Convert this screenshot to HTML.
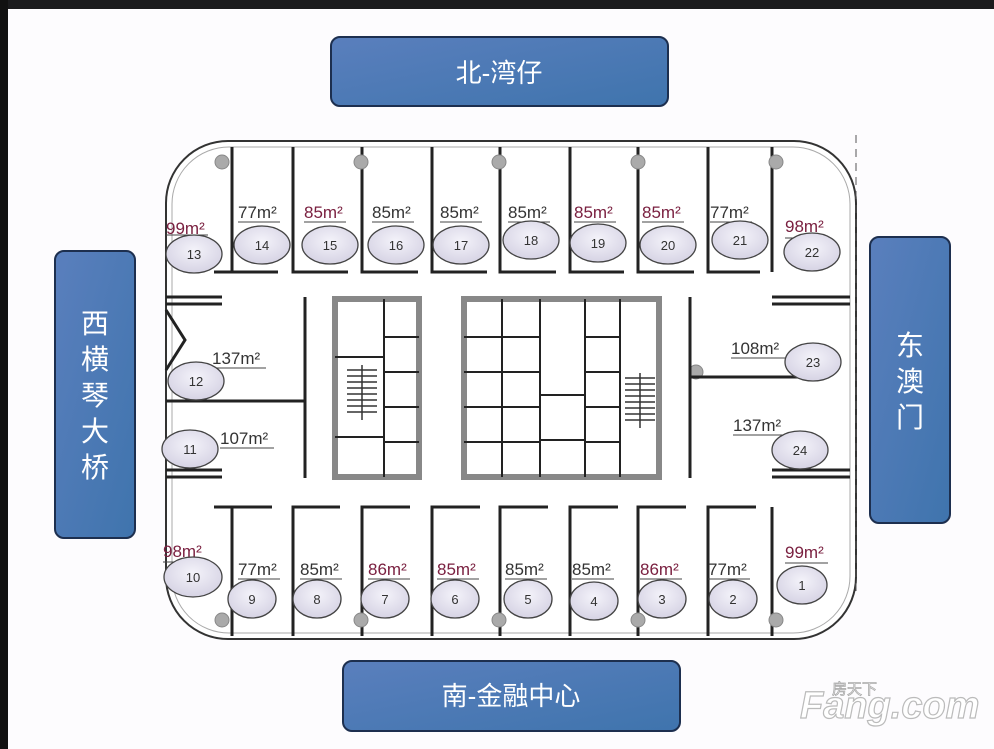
<!DOCTYPE html>
<html><head><meta charset="utf-8"><style>
html,body{margin:0;padding:0;background:#fdfcfe;}
svg{display:block;}
text{font-family:"Liberation Sans","Noto Sans CJK SC",sans-serif;}
.cn{font-family:"Liberation Sans","Noto Sans CJK SC",sans-serif;fill:#fff;}
.lb{font-size:17px;fill:#333;font-family:"Liberation Serif","DejaVu Serif",serif;}
.r{fill:#7a2040;}
.n{font-size:13px;fill:#333;text-anchor:middle;}
.w{stroke:#222;stroke-width:3;fill:none;}
.g{stroke:#777;stroke-width:5;fill:none;}
.e{fill:url(#eg);stroke:#444;stroke-width:1.3;}
.core{fill:#fff;stroke:#888;stroke-width:6;}
.cl{stroke:#222;stroke-width:2;fill:none;}
</style></head><body>
<svg width="994" height="749" viewBox="0 0 994 749" xmlns="http://www.w3.org/2000/svg">
<defs>
<radialGradient id="eg" cx="50%" cy="40%" r="60%"><stop offset="0" stop-color="#f4f3fa"/><stop offset="1" stop-color="#d6d3e4"/></radialGradient>
<linearGradient id="bg" x1="0" y1="0" x2="1" y2="1"><stop offset="0" stop-color="#5a7fbd"/><stop offset="1" stop-color="#3f74ad"/></linearGradient>
</defs>
<rect x="0" y="0" width="994" height="749" fill="#fdfcfe"/>
<rect x="0" y="0" width="994" height="9" fill="#1b1b1d"/>
<rect x="0" y="0" width="8" height="749" fill="#111"/>

<!-- direction boxes -->
<rect x="331" y="37" width="337" height="69" rx="9" fill="url(#bg)" stroke="#1d2f4f" stroke-width="2"/>
<text x="499" y="82" class="cn" font-size="26" text-anchor="middle">北-湾仔</text>
<rect x="55" y="251" width="80" height="287" rx="9" fill="url(#bg)" stroke="#1d2f4f" stroke-width="2"/>
<text class="cn" font-size="28" text-anchor="middle"><tspan x="95" y="333">西</tspan><tspan x="95" y="369">横</tspan><tspan x="95" y="405">琴</tspan><tspan x="95" y="441">大</tspan><tspan x="95" y="477">桥</tspan></text>
<rect x="870" y="237" width="80" height="286" rx="9" fill="url(#bg)" stroke="#1d2f4f" stroke-width="2"/>
<text class="cn" font-size="28" text-anchor="middle"><tspan x="910" y="355">东</tspan><tspan x="910" y="391">澳</tspan><tspan x="910" y="427">门</tspan></text>
<rect x="343" y="661" width="337" height="70" rx="9" fill="url(#bg)" stroke="#1d2f4f" stroke-width="2"/>
<text x="511" y="705" class="cn" font-size="26" text-anchor="middle">南-金融中心</text>

<!-- outline -->
<rect x="166" y="141" width="690" height="498" rx="62" fill="#fff" stroke="#333" stroke-width="2"/>
<rect x="172" y="147" width="678" height="486" rx="57" fill="none" stroke="#aaa" stroke-width="1"/>
<line x1="856" y1="135" x2="856" y2="595" stroke="#555" stroke-dasharray="8 6" stroke-width="1"/>

<!-- top unit walls -->
<g class="w">
<path d="M232 147V272H278M232 272H214"/>
<path d="M293 147V272H348M305 272H293"/>
<path d="M362 147V272H418M374 272H362"/>
<path d="M432 147V272H487M444 272H432"/>
<path d="M500 147V272H556M512 272H500"/>
<path d="M570 147V272H624M582 272H570"/>
<path d="M638 147V272H694M650 272H638"/>
<path d="M708 147V272H760M720 272H708"/>
<path d="M772 147V272"/>
</g>
<!-- bottom unit walls -->
<g class="w">
<path d="M232 636V507H272M232 507H214"/>
<path d="M293 636V507H340M305 507H293"/>
<path d="M362 636V507H410M374 507H362"/>
<path d="M432 636V507H480M444 507H432"/>
<path d="M500 636V507H548M512 507H500"/>
<path d="M570 636V507H618M582 507H570"/>
<path d="M638 636V507H686M650 507H638"/>
<path d="M708 636V507H756M720 507H708"/>
<path d="M772 636V507"/>
</g>
<!-- columns -->
<g fill="#aaa" stroke="#888">
<circle cx="222" cy="162" r="7"/><circle cx="361" cy="162" r="7"/><circle cx="499" cy="162" r="7"/><circle cx="638" cy="162" r="7"/><circle cx="776" cy="162" r="7"/>
<circle cx="222" cy="620" r="7"/><circle cx="361" cy="620" r="7"/><circle cx="499" cy="620" r="7"/><circle cx="638" cy="620" r="7"/><circle cx="776" cy="620" r="7"/>
<circle cx="187" cy="387" r="7"/><circle cx="696" cy="372" r="7"/>
</g>

<!-- side middle walls -->
<g class="w">
<path d="M166 297H222M166 304H222"/>
<path d="M166 477H222M166 470H222"/>
<path d="M305 297V478"/>
<path d="M690 297V478"/>
<path d="M166 401H305"/>
<path d="M690 377H810"/>
<path d="M772 297H850M772 304H850"/>
<path d="M772 470H850M772 477H850"/>
<path d="M166 310L185 340L166 370"/>
</g>

<!-- cores -->
<rect x="335" y="299" width="84" height="178" class="core"/>
<rect x="464" y="299" width="195" height="178" class="core"/>
<g class="cl">
<path d="M384 299V477M384 337H419M384 372H419M384 407H419M384 442H419"/>
<path d="M335 357H384M335 437H384"/>
<path d="M502 299V477M464 337H540M464 372H540M464 407H540M464 442H540M540 299V477"/>
<path d="M585 299V477M585 337H620M585 372H620M585 407H620M585 442H620M620 299V477"/>
<path d="M540 395H585M540 440H585"/>
</g>
<g stroke="#333" stroke-width="1.5">
<path d="M347 370H377M347 376H377M347 382H377M347 388H377M347 394H377M347 400H377M347 406H377M347 412H377"/>
<path d="M625 378H655M625 384H655M625 390H655M625 396H655M625 402H655M625 408H655M625 414H655M625 420H655"/>
<path d="M362 365V420M640 373V428"/>
</g>

<!-- area labels -->
<g class="lb">
<text x="166" y="234" class="r">99m²</text>
<text x="238" y="218">77m²</text>
<text x="304" y="218" class="r">85m²</text>
<text x="372" y="218">85m²</text>
<text x="440" y="218">85m²</text>
<text x="508" y="218">85m²</text>
<text x="574" y="218" class="r">85m²</text>
<text x="642" y="218" class="r">85m²</text>
<text x="710" y="218">77m²</text>
<text x="785" y="232" class="r">98m²</text>
<text x="212" y="364">137m²</text>
<text x="220" y="444">107m²</text>
<text x="731" y="354">108m²</text>
<text x="733" y="431">137m²</text>
<text x="163" y="557" class="r">98m²</text>
<text x="238" y="575">77m²</text>
<text x="300" y="575">85m²</text>
<text x="368" y="575" class="r">86m²</text>
<text x="437" y="575" class="r">85m²</text>
<text x="505" y="575">85m²</text>
<text x="572" y="575">85m²</text>
<text x="640" y="575" class="r">86m²</text>
<text x="708" y="575">77m²</text>
<text x="785" y="558" class="r">99m²</text>
</g>
<g stroke="#444" stroke-width="1">
<path d="M166 235H208M238 222H280M304 222H346M372 222H414M440 222H482M508 222H550M574 222H616M642 222H684M710 222H752M785 238H828"/>
<path d="M212 368H266M220 448H274M731 358H786M733 435H788"/>
<path d="M163 562H206M238 579H280M300 579H342M368 579H410M437 579H479M505 579H547M572 579H614M640 579H682M708 579H750M785 563H828"/>
</g>

<!-- ellipses -->
<g class="e">
<ellipse cx="194" cy="254" rx="28" ry="19"/>
<ellipse cx="262" cy="245" rx="28" ry="19"/>
<ellipse cx="330" cy="245" rx="28" ry="19"/>
<ellipse cx="396" cy="245" rx="28" ry="19"/>
<ellipse cx="461" cy="245" rx="28" ry="19"/>
<ellipse cx="531" cy="240" rx="28" ry="19"/>
<ellipse cx="598" cy="243" rx="28" ry="19"/>
<ellipse cx="668" cy="245" rx="28" ry="19"/>
<ellipse cx="740" cy="240" rx="28" ry="19"/>
<ellipse cx="812" cy="252" rx="28" ry="19"/>
<ellipse cx="196" cy="381" rx="28" ry="19"/>
<ellipse cx="190" cy="449" rx="28" ry="19"/>
<ellipse cx="813" cy="362" rx="28" ry="19"/>
<ellipse cx="800" cy="450" rx="28" ry="19"/>
<ellipse cx="193" cy="577" rx="29" ry="20"/>
<ellipse cx="252" cy="599" rx="24" ry="19"/>
<ellipse cx="317" cy="599" rx="24" ry="19"/>
<ellipse cx="385" cy="599" rx="24" ry="19"/>
<ellipse cx="455" cy="599" rx="24" ry="19"/>
<ellipse cx="528" cy="599" rx="24" ry="19"/>
<ellipse cx="594" cy="601" rx="24" ry="19"/>
<ellipse cx="662" cy="599" rx="24" ry="19"/>
<ellipse cx="733" cy="599" rx="24" ry="19"/>
<ellipse cx="802" cy="585" rx="25" ry="19"/>
</g>
<g class="n">
<text x="194" y="259">13</text><text x="262" y="250">14</text><text x="330" y="250">15</text><text x="396" y="250">16</text><text x="461" y="250">17</text><text x="531" y="245">18</text><text x="598" y="248">19</text><text x="668" y="250">20</text><text x="740" y="245">21</text><text x="812" y="257">22</text>
<text x="196" y="386">12</text><text x="190" y="454">11</text><text x="813" y="367">23</text><text x="800" y="455">24</text>
<text x="193" y="582">10</text><text x="252" y="604">9</text><text x="317" y="604">8</text><text x="385" y="604">7</text><text x="455" y="604">6</text><text x="528" y="604">5</text><text x="594" y="606">4</text><text x="662" y="604">3</text><text x="733" y="604">2</text><text x="802" y="590">1</text>
</g>

<!-- watermark -->
<text x="800" y="718" font-size="38" font-weight="bold" font-style="italic" fill="#fff" stroke="#bbb" stroke-width="1.2">Fang.com</text>
<text x="832" y="694" font-size="15" fill="#fff" stroke="#aaa" stroke-width="0.8">房天下</text>
</svg>
</body></html>
